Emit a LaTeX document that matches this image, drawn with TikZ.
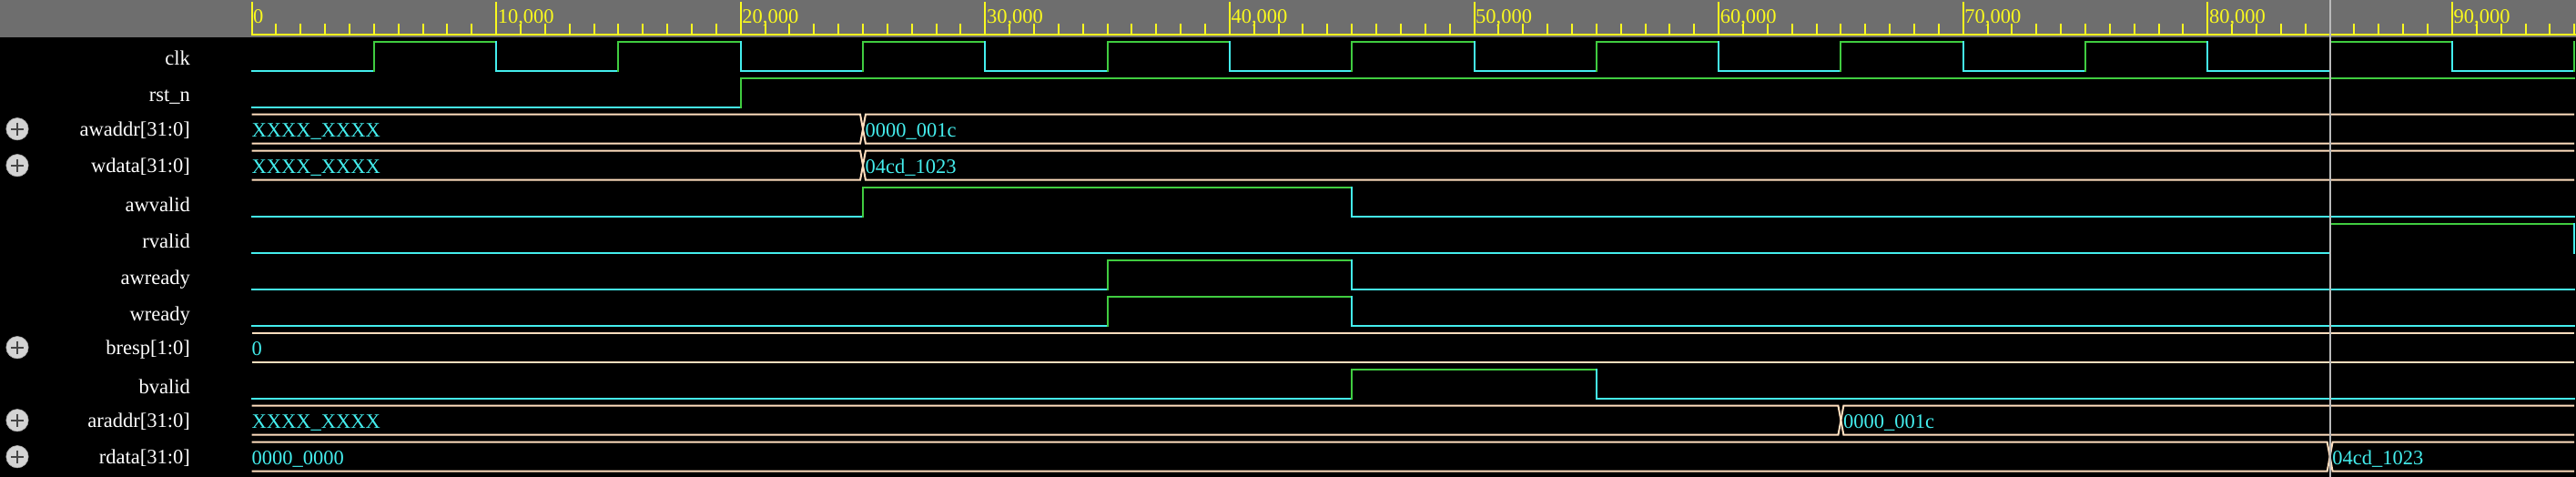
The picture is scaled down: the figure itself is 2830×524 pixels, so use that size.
\documentclass[tikz,border=0pt]{standalone}
\usepackage{fontspec}
\setmainfont{Liberation Serif}
\definecolor{wcyan}{RGB}{68,238,238}
\definecolor{wgreen}{RGB}{64,204,64}
\definecolor{wpeach}{RGB}{255,222,190}
\definecolor{wyellow}{RGB}{250,250,30}
\definecolor{headgray}{RGB}{110,110,110}
\definecolor{cursorgray}{RGB}{185,185,185}
\definecolor{iconfill}{RGB}{212,212,212}
\definecolor{iconplus}{RGB}{70,70,70}
\newcommand\wavefont{\fontsize{22.5}{27}\selectfont}
\begin{document}
\begin{tikzpicture}[x=1pt,y=-1pt,
  lo/.style={draw=wcyan,line width=2pt,line cap=rect},
  hi/.style={draw=wgreen,line width=2pt,line cap=rect},
  busline/.style={draw=wpeach,line width=2pt},
  lbl/.style={text=white,anchor=base east,inner sep=0pt,font=\wavefont},
  val/.style={text=wcyan,anchor=base west,inner sep=0pt,font=\wavefont},
  rul/.style={text=wyellow,anchor=base west,inner sep=0pt,font=\wavefont},
  tickline/.style={draw=wyellow,line width=2pt},
  cursorline/.style={draw=cursorgray,line width=2pt},
  icon/.style={fill=iconfill,draw=iconfill!80!black,line width=0.6pt},
  iconmark/.style={draw=iconplus,line width=2pt}]
\useasboundingbox (0,0) rectangle (2830,524);
\fill[black] (0,0) rectangle (2830,524);
% header band
\fill[headgray] (0,0) rectangle (2830,41);
\draw[tickline] (275.5,37.7) -- (2830,37.7);
% signal names
\node[lbl] (n-clk)    at (209,72)    {clk};
\node[lbl] (n-rstn)   at (209,112)   {rst\_n};
\node[lbl] (n-awaddr) at (209,149.2) {awaddr[31:0]};
\node[lbl] (n-wdata)  at (209,189.2) {wdata[31:0]};
\node[lbl] (n-awvalid) at (209,232)  {awvalid};
\node[lbl] (n-rvalid) at (209,272)   {rvalid};
\node[lbl] (n-awready) at (209,312)  {awready};
\node[lbl] (n-wready) at (209,352)   {wready};
\node[lbl] (n-bresp)  at (209,389.2) {bresp[1:0]};
\node[lbl] (n-bvalid) at (209,432)   {bvalid};
\node[lbl] (n-araddr) at (209,469.2) {araddr[31:0]};
\node[lbl] (n-rdata)  at (209,509.2) {rdata[31:0]};
% expand icons
\foreach \yy in {141.7,181.7,381.7,461.7,501.7} {
  \filldraw[icon] (19,\yy) circle (12.2);
  \draw[iconmark] (12,\yy) -- (26,\yy);
  \draw[iconmark] (19,\yy-7) -- (19,\yy+7);
}
\begin{scope}[xshift=276.5pt,x=26.86pt]
  % time ruler
  \foreach \m in {1,...,95} { \draw[tickline] (\m,26) -- (\m,37.7); }
  \foreach \m in {0,...,9} { \draw[tickline] ({10*\m},2) -- ({10*\m},37.7); }
  \node[rul,xshift=1.5pt] (tk0) at (0,26) {0};
  \foreach \m in {1,...,9} { \node[rul,xshift=1.5pt] (tk\m) at ({10*\m},26) {\m0,000}; }
  % clk
  \foreach \k in {0,...,9} {
    \draw[lo] ({10*\k},77.7) -- ({10*\k+5},77.7);
    \draw[hi] ({10*\k+5},77.7) -- ({10*\k+5},45.7);
  }
  \foreach \k in {0,...,8} {
    \draw[hi] ({10*\k+5},45.7) -- ({10*\k+10},45.7);
    \draw[lo] ({10*\k+10},45.7) -- ({10*\k+10},77.7);
  }
  % rst_n
  \draw[lo] (0,117.7) -- (20,117.7);
  \draw[hi] (20,117.7) -- (20,85.7) -- (95,85.7);
  % awaddr
  \draw[busline] (0,125.7) -- (24.89,125.7) -- (25.11,157.7) -- (95,157.7);
  \draw[busline] (0,157.7) -- (24.89,157.7) -- (25.11,125.7) -- (95,125.7);
  \node[val] (v-awaddr0) at (0,150) {XXXX\_XXXX};
  \node[val,xshift=2.5pt] (v-awaddr1) at (25,150) {0000\_001c};
  % wdata
  \draw[busline] (0,165.7) -- (24.89,165.7) -- (25.11,197.7) -- (95,197.7);
  \draw[busline] (0,197.7) -- (24.89,197.7) -- (25.11,165.7) -- (95,165.7);
  \node[val] (v-wdata0) at (0,190) {XXXX\_XXXX};
  \node[val,xshift=2.5pt] (v-wdata1) at (25,190) {04cd\_1023};
  % awvalid
  \draw[lo] (0,237.7) -- (25,237.7);
  \draw[hi] (25,237.7) -- (25,205.7) -- (45,205.7);
  \draw[lo] (45,205.7) -- (45,237.7) -- (95,237.7);
  % rvalid
  \draw[lo] (0,277.7) -- (85,277.7);
  \draw[hi] (85,277.7) -- (85,245.7) -- (95,245.7);
  \draw[lo] (95,245.7) -- (95,277.7);
  % awready
  \draw[lo] (0,317.7) -- (35,317.7);
  \draw[hi] (35,317.7) -- (35,285.7) -- (45,285.7);
  \draw[lo] (45,285.7) -- (45,317.7) -- (95,317.7);
  % wready
  \draw[lo] (0,357.7) -- (35,357.7);
  \draw[hi] (35,357.7) -- (35,325.7) -- (45,325.7);
  \draw[lo] (45,325.7) -- (45,357.7) -- (95,357.7);
  % bresp
  \draw[busline] (0,365.7) -- (95,365.7);
  \draw[busline] (0,397.7) -- (95,397.7);
  \node[val] (v-bresp0) at (0,390) {0};
  % bvalid
  \draw[lo] (0,437.7) -- (45,437.7);
  \draw[hi] (45,437.7) -- (45,405.7) -- (55,405.7);
  \draw[lo] (55,405.7) -- (55,437.7) -- (95,437.7);
  % araddr
  \draw[busline] (0,445.7) -- (64.89,445.7) -- (65.11,477.7) -- (95,477.7);
  \draw[busline] (0,477.7) -- (64.89,477.7) -- (65.11,445.7) -- (95,445.7);
  \node[val] (v-araddr0) at (0,470) {XXXX\_XXXX};
  \node[val,xshift=2.5pt] (v-araddr1) at (65,470) {0000\_001c};
  % rdata
  \draw[busline] (0,485.7) -- (84.89,485.7) -- (85.11,517.7) -- (95,517.7);
  \draw[busline] (0,517.7) -- (84.89,517.7) -- (85.11,485.7) -- (95,485.7);
  \node[val] (v-rdata0) at (0,510) {0000\_0000};
  \node[val,xshift=2.5pt] (v-rdata1) at (85,510) {04cd\_1023};
  % cursor
  \draw[cursorline] (85,0) -- (85,524);
\end{scope}
\end{tikzpicture}
\end{document}
